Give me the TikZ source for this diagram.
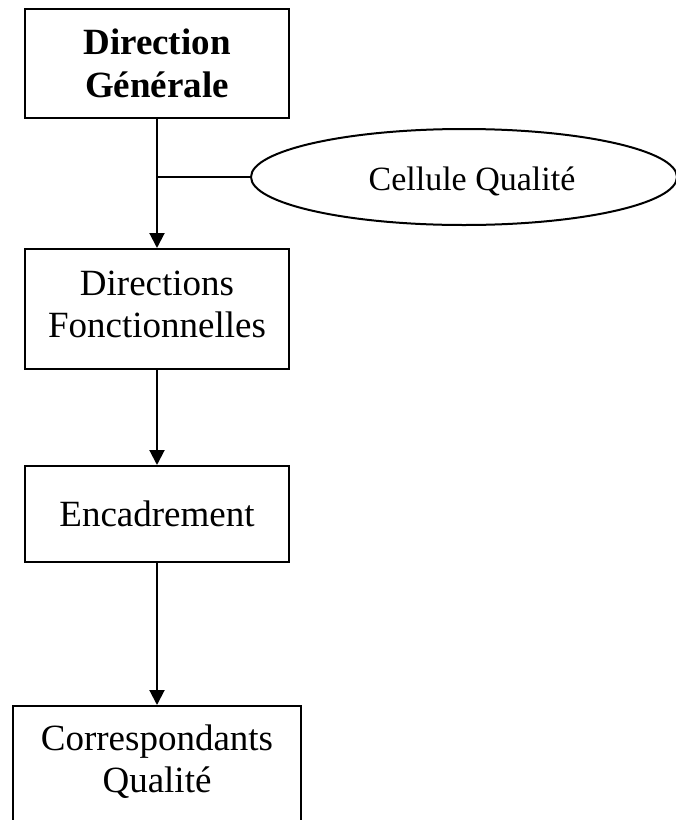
\documentclass[tikz,border=0pt]{standalone}
\usepackage{fontspec}
\setmainfont{Liberation Serif}
\usetikzlibrary{arrows.meta,shapes.geometric}
\begin{document}
\begin{tikzpicture}[x=1pt,y=-1pt,
  box/.style={draw,line width=2pt,rectangle,inner sep=0pt,align=center,
    font=\fontsize{37}{44}\selectfont},
  lbl/.style={inner sep=0pt,align=center,font=\fontsize{37}{42}\selectfont},
  link/.style={line width=2pt},
  arr/.style={line width=2pt,-{Triangle[length=15pt,width=15pt]}}]
\clip (0,0) rectangle (676,820);
\useasboundingbox (0,0) rectangle (676,820);
\node[box,minimum width=264pt,minimum height=109pt,font=\fontsize{37}{43}\selectfont\bfseries] (dg) at (157,63.5) {Direction\\Générale};
\node[box,minimum width=264pt,minimum height=120pt] (df) at (157,309) {};
\node[lbl] (dft) at (157,304) {Directions\\Fonctionnelles};
\node[box,minimum width=264pt,minimum height=96pt] (en) at (157,514) {Encadrement};
\node[box,minimum width=288pt,minimum height=150pt] (cq) at (157,781) {};
\node[lbl] (cqt) at (157,762) {Correspondants\\Qualité};
\node[draw,ellipse,line width=2pt,minimum width=426pt,minimum height=96pt,inner sep=0pt] (cel) at (464,177) {};
\node[inner sep=0pt,font=\fontsize{34}{40}\selectfont] (celt) at (472,181) {Cellule Qualité};
\draw[arr] (dg.south) -- (df.north);
\draw[link] (cel.west) -- (cel.west -| dg.south);
\draw[arr] (df.south) -- (en.north);
\draw[arr] (en.south) -- (cq.north);
\end{tikzpicture}
\end{document}
